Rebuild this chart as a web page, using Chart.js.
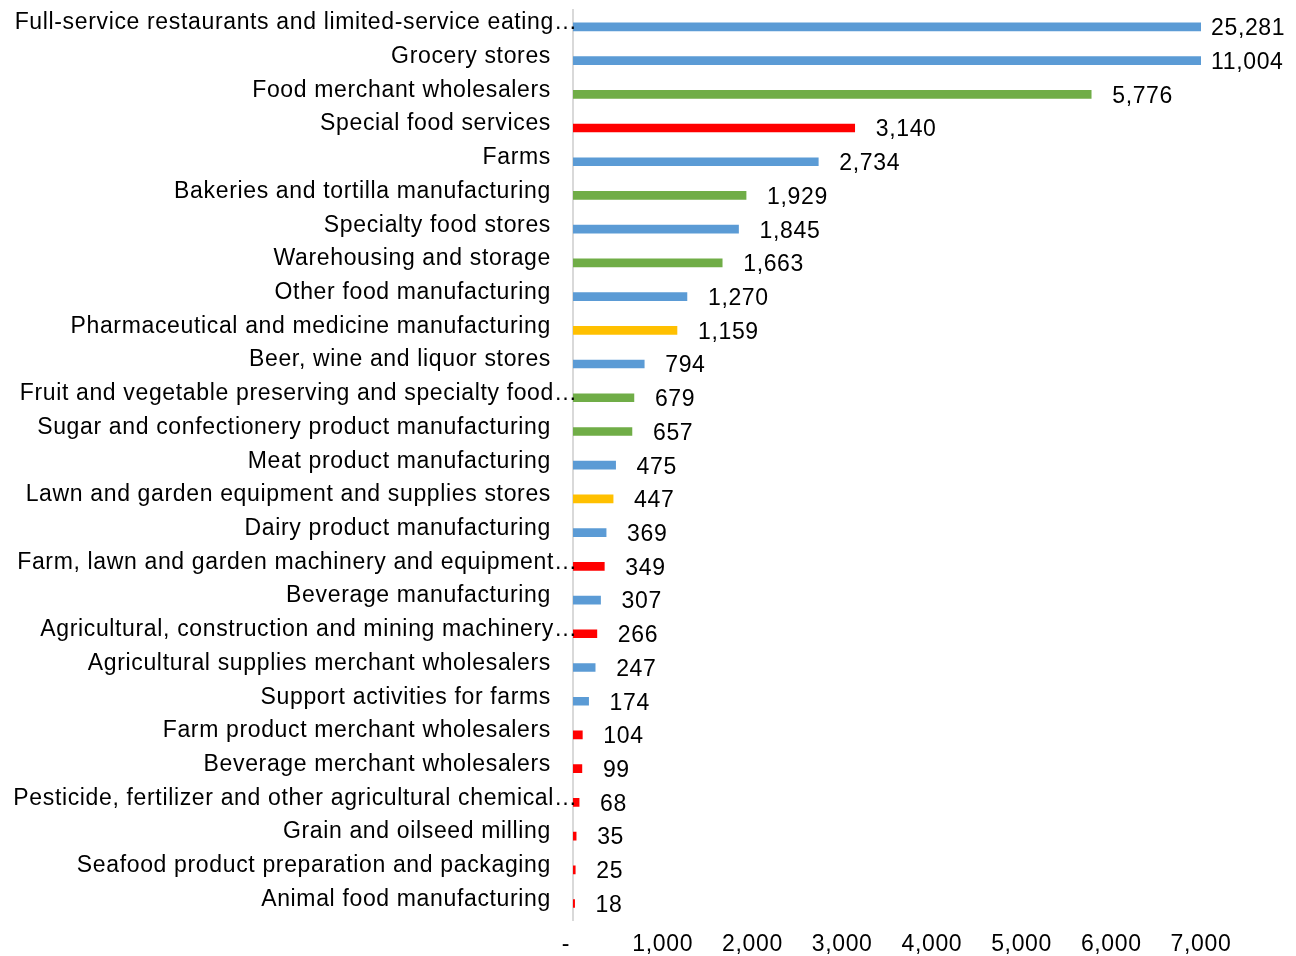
<!DOCTYPE html>
<html>
<head>
<meta charset="utf-8">
<script src="https://cdn.jsdelivr.net/npm/chart.js@4.4.1/dist/chart.umd.min.js"></script>
<style>
html,body{margin:0;padding:0;background:#fff;}
#wrap{width:1296px;height:956px;}
</style>
</head>
<body>
<div id="wrap"><canvas id="c" width="1296" height="956"></canvas></div>
<script>
const categories = [
  "Full-service restaurants and limited-service eating\u2026",
  "Grocery stores",
  "Food merchant wholesalers",
  "Special food services",
  "Farms",
  "Bakeries and tortilla manufacturing",
  "Specialty food stores",
  "Warehousing and storage",
  "Other food manufacturing",
  "Pharmaceutical and medicine manufacturing",
  "Beer, wine and liquor stores",
  "Fruit and vegetable preserving and specialty food\u2026",
  "Sugar and confectionery product manufacturing",
  "Meat product manufacturing",
  "Lawn and garden equipment and supplies stores",
  "Dairy product manufacturing",
  "Farm, lawn and garden machinery and equipment\u2026",
  "Beverage manufacturing",
  "Agricultural, construction and mining machinery\u2026",
  "Agricultural supplies merchant wholesalers",
  "Support activities for farms",
  "Farm product merchant wholesalers",
  "Beverage merchant wholesalers",
  "Pesticide, fertilizer and other agricultural chemical\u2026",
  "Grain and oilseed milling",
  "Seafood product preparation and packaging",
  "Animal food manufacturing"
];
const values = [25281, 11004, 5776, 3140, 2734, 1929, 1845, 1663, 1270, 1159, 794, 679, 657, 475, 447, 369, 349, 307, 266, 247, 174, 104, 99, 68, 35, 25, 18];
const colorGroups = ["blue","blue","green","red","blue","green","blue","green","blue","yellow","blue","green","green","blue","yellow","blue","red","blue","red","blue","blue","red","red","red","red","red","red"];
const xTicks = [0, 1000, 2000, 3000, 4000, 5000, 6000, 7000];
const xTickLabels = ["-  ", "1,000", "2,000", "3,000", "4,000", "5,000", "6,000", "7,000"];

const palette = {blue:"#5B9BD5", green:"#70AD47", red:"#FF0000", yellow:"#FFC000"};
const FONT = "Liberation Sans, Arial, sans-serif";
const FS = 23;
const LS = "0.65px";

const spacingPlugin = {
  id: 'spacing',
  beforeDraw(chart) { chart.ctx.letterSpacing = LS; }
};

const labelPlugin = {
  id: 'labels',
  afterDatasetsDraw(chart) {
    const ctx = chart.ctx;
    const meta = chart.getDatasetMeta(0);
    const area = chart.chartArea;
    const y = chart.scales.y;
    ctx.save();
    ctx.letterSpacing = LS;
    ctx.font = FS + "px " + FONT;
    ctx.fillStyle = "#000";
    ctx.textBaseline = "middle";
    meta.data.forEach((bar, i) => {
      const clipped = bar.x > area.right;
      const x = clipped ? area.right + 10 : bar.x + 21;
      ctx.textAlign = "left";
      ctx.fillText(values[i].toLocaleString("en-US"), x, bar.y + 2);
    });
    categories.forEach((lab, i) => {
      const py = y.getPixelForValue(i) - 4;
      ctx.textAlign = "right";
      if (lab.endsWith("\u2026")) {
        const main = lab.slice(0, -1);
        ctx.fillText(main, area.left - 19, py);
        ctx.textAlign = "left";
        ctx.fillText("\u2026", area.left - 19, py);
      } else {
        ctx.fillText(lab, area.left - 22, py);
      }
    });
    ctx.restore();
  }
};

new Chart(document.getElementById('c'), {
  type: 'bar',
  data: {
    labels: categories,
    datasets: [{
      data: values,
      backgroundColor: colorGroups.map(g => palette[g]),
      barThickness: 8,
      borderWidth: 0
    }]
  },
  options: {
    indexAxis: 'y',
    responsive: false,
    animation: false,
    layout: { padding: { left: 573, right: 95, top: 10, bottom: -12 } },
    plugins: { legend: { display: false }, tooltip: { enabled: false } },
    scales: {
      x: {
        min: 0, max: 7000,
        afterBuildTicks(scale) { scale.ticks = xTicks.map(v => ({ value: v })); },
        ticks: {
          color: "#000",
          font: { family: FONT, size: FS },
          padding: 10,
          maxRotation: 0,
          callback: (v, i) => xTickLabels[i]
        },
        grid: { display: false, drawTicks: false },
        border: { display: false }
      },
      y: {
        ticks: { display: false },
        grid: { display: false, drawTicks: false },
        border: { display: true, color: "#d9d9d9", width: 2 }
      }
    }
  },
  plugins: [spacingPlugin, labelPlugin]
});
</script>
</body>
</html>
